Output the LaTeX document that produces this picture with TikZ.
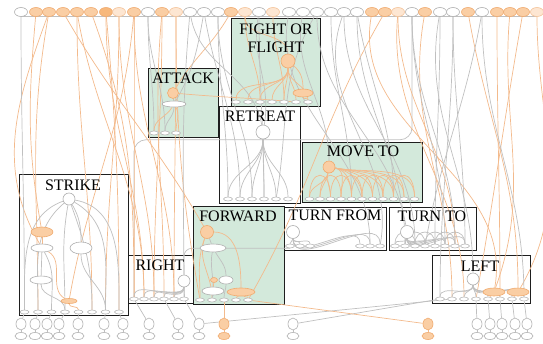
\documentclass[tikz,border=0pt]{standalone}
\usepackage{fontspec}
\setmainfont{Liberation Serif}
\usetikzlibrary{shapes.geometric,positioning}
\definecolor{grpgreen}{RGB}{211,233,219}
\definecolor{grpline}{RGB}{30,30,30}
\definecolor{ornode}{RGB}{250,206,164}
\definecolor{ornodelt}{RGB}{253,230,210}
\definecolor{ornodedk}{RGB}{247,184,124}
\definecolor{orline}{RGB}{240,170,110}
\definecolor{oredge}{RGB}{243,186,140}
\definecolor{gredge}{RGB}{192,192,192}
\definecolor{grnode}{RGB}{175,175,175}
\pgfdeclarelayer{back}
\pgfdeclarelayer{wires}
\pgfsetlayers{back,wires,main}
\tikzset{
    grp/.style={draw=grpline,line width=0.9pt,fill=#1},
    grp/.default=white,
    grptitle/.style={font=\fontsize{16}{18}\selectfont,align=center,inner sep=0pt},
    topnode/.style={ellipse,line width=0.6pt,minimum width=13pt,minimum height=9pt,inner sep=0pt},
    gtop/.style={topnode,draw=grnode,fill=white},
    otop/.style={topnode,draw=orline,fill=ornode},
    ltop/.style={topnode,draw=orline!70,fill=ornodelt},
    dtop/.style={topnode,draw=orline,fill=ornodedk},
    port/.style={ellipse,draw=grnode,fill=white,line width=0.5pt,minimum width=9pt,minimum height=4pt,inner sep=0pt},
    wcirc/.style={circle,draw=grnode,fill=white,line width=0.6pt,minimum size=#1,inner sep=0pt},
    wcirc/.default=13pt,
    ocirc/.style={circle,draw=orline,fill=ornode,line width=0.6pt,minimum size=#1,inner sep=0pt},
    ocirc/.default=13pt,
    woval/.style={ellipse,draw=grnode,fill=white,line width=0.6pt,minimum width=#1,minimum height=8pt,inner sep=0pt},
    woval/.default=22pt,
    ooval/.style={ellipse,draw=orline,fill=ornode,line width=0.6pt,minimum width=#1,minimum height=8pt,inner sep=0pt},
    ooval/.default=22pt,
    bupg/.style={ellipse,draw=grnode,fill=white,line width=0.6pt,minimum width=10pt,minimum height=12pt,inner sep=0pt},
    bupo/.style={ellipse,draw=orline,fill=ornode,line width=0.6pt,minimum width=10pt,minimum height=12pt,inner sep=0pt},
    blowg/.style={ellipse,draw=grnode,fill=white,line width=0.6pt,minimum width=12pt,minimum height=7pt,inner sep=0pt},
    blowo/.style={ellipse,draw=orline,fill=ornode,line width=0.6pt,minimum width=12pt,minimum height=7pt,inner sep=0pt},
    gedge/.style={draw=gredge,line width=0.7pt},
    oedge/.style={draw=oredge,line width=0.7pt}
}

\begin{document}
\begin{tikzpicture}[x=1pt,y=-1pt]
\useasboundingbox (0,0) rectangle (543,343);

% clusters
\begin{pgfonlayer}{back}
\draw[grp=grpgreen] (231,18) rectangle (320,106);
\draw[grp=grpgreen] (148,68) rectangle (218,137);
\draw[grp] (219,106) rectangle (300,203);
\draw[grp=grpgreen] (302,142) rectangle (422,202);
\draw[grp] (19,174) rectangle (128,315);
\draw[grp=grpgreen] (193,206) rectangle (284,304);
\draw[grp] (284,207) rectangle (386,250);
\draw[grp] (389,207) rectangle (476,250);
\draw[grp] (128,255) rectangle (193,303);
\draw[grp] (432,255) rectangle (530,303);
\end{pgfonlayer}

\node[grptitle] (fftitle) at (276,38) {FIGHT OR\\FLIGHT};
\node[grptitle] (atktitle) at (183,78) {ATTACK};
\node[grptitle] (rettitle) at (260,116) {RETREAT};
\node[grptitle] (movtitle) at (363,151) {MOVE TO};
\node[grptitle] (strtitle) at (73,185) {STRIKE};
\node[grptitle] (fwdtitle) at (238,216) {FORWARD};
\node[grptitle] (tfrtitle) at (335,215) {TURN FROM};
\node[grptitle] (ttotitle) at (432,216) {TURN TO};
\node[grptitle] (rgttitle) at (160,265) {RIGHT};
\node[grptitle] (lfttitle) at (480,266) {LEFT};

% top row
\foreach \i/\x/\s in {0/21/gtop,1/36/otop,2/49/otop,3/63/otop,4/77/otop,5/91/otop,
  6/106/dtop,7/119/ltop,8/134/otop,9/148/gtop,10/162/otop,11/176/ltop,12/190/gtop,
  13/204/gtop,14/218/gtop,15/231/otop,16/245/ltop,17/259/gtop,18/273/ltop,19/289/gtop,
  20/303/gtop,21/317/gtop,22/331/gtop,23/344/gtop,24/357/gtop,25/372/otop,26/385/otop,
  27/398/ltop,28/412/gtop,29/425/otop,30/440/gtop,31/453/gtop,32/468/otop,33/482/gtop,
  34/497/otop,35/510/otop,36/523/otop,37/537/ltop}
  \node[\s] (t\i) at (\x,12) {};

% bottom row
\foreach \i/\x/\u/\l in {0/21/bupg/blowg,1/35/bupg/blowg,2/47/bupg/blowg,3/59/bupg/blowg,
  4/78/bupg/blowg,5/104/bupg/blowg,6/123/bupg/blowg,7/149/bupg/blowg,8/178/bupg/blowg,
  9/199/bupg/blowg,10/224/bupo/blowo,11/293/bupg/blowg,12/428/bupo/blowo,13/477/bupg/blowg,
  14/490/bupg/blowg,15/502/bupg/blowg,16/515/bupg/blowg,17/527/bupg/blowg}
{
  \node[\u] (bu\i) at (\x,324) {};
  \node[\l] (bl\i) at (\x,336) {};
}

% ports
\foreach \i/\x in {1/236,2/248,3/260,4/272,5/284,6/296,7/308} \node[port] (ffp\i) at (\x,102) {};
\foreach \i/\x in {1/154,2/165,3/176} \node[port] (atp\i) at (\x,133) {};
\foreach \i/\x in {1/228,2/240,3/252,4/264,5/276,6/288} \node[port] (rtp\i) at (\x,199) {};
\foreach \i in {1,...,11} \node[port] (mvp\i) at ({299+10.5*\i},199) {};
\foreach \i in {1,...,8} \node[port] (stp\i) at ({11+13.5*\i},312) {};
\foreach \i/\x in {1/200,2/212,3/224,4/236,5/248} \node[port] (fwp\i) at (\x,300) {};
\foreach \i/\x in {1/290,2/300,3/310,4/360,5/370,6/380} \node[port] (tfp\i) at (\x,246) {};
\foreach \i in {1,...,8} \node[port] (ttp\i) at ({385+10*\i},246) {};
\foreach \i/\x in {1/134,2/144,3/154,4/164,5/174,6/184} \node[port] (rgp\i) at (\x,299) {};
\foreach \i in {1,...,8} \node[port] (lfp\i) at ({428+12*\i},299) {};

% inner nodes
\node[ocirc=14pt] (ff1) at (288,61) {};
\node[ooval=20pt] (ff2) at (303,93) {};
\node[ocirc=11pt] (atk1) at (173,93) {};
\node[woval=24pt,minimum height=6pt] (atk2) at (174,104) {};
\node[wcirc=14pt] (ret1) at (263,132) {};
\node[ocirc=12pt] (mv1) at (329,167) {};
\node[wcirc=12pt] (str1) at (69,199) {};
\node[ooval=22pt,minimum height=10pt] (str2) at (42,232) {};
\node[woval=22pt] (str3) at (42,248) {};
\node[woval=22pt,minimum height=12pt] (str4) at (81,248) {};
\node[woval=22pt] (str5) at (41,280) {};
\node[ooval=16pt,minimum height=5pt] (str6) at (69,301) {};
\node[ocirc=13pt] (fw1) at (207,232) {};
\node[woval=26pt] (fw2) at (213,248) {};
\node[ooval=7pt,minimum height=5pt] (fw3) at (214,280) {};
\node[woval=14pt] (fw4) at (226,280) {};
\node[woval=22pt] (fw5) at (213,291) {};
\node[ooval=28pt] (fw6) at (241,292) {};
\node[wcirc=13pt] (tf1) at (293,232) {};
\node[wcirc=13pt] (tt1) at (407,232) {};
\node[wcirc=12pt] (rg1) at (184,281) {};
\node[wcirc=12pt] (lf1) at (473,279) {};
\node[ooval=22pt] (lf2) at (494,292) {};
\node[ooval=22pt] (lf3) at (518,292) {};

\begin{pgfonlayer}{wires}
\draw[gedge] (t0.south) -- (t37.south);
\draw[gedge,rounded corners=12pt] (rgp1.north) -- ++(0,-157) -| (t28.south);
\draw[gedge,rounded corners=8pt] (rg1.north) |- (tfp1.south);

% from the top row
\foreach \a/\b/\p/\q in {t1/str2/-95/100,t2/stp2/-100/90,t3/fw1/-60/120,t4/rgp2/-80/90,
  t5/rgp1/-70/90,t6/stp8/-85/90,t7/rgp3/-90/90,t8/str6/-95/80,t10/rgp4/-95/90,
  t11/fwp1/-90/100,t15/atk1/-120/60,t16/ff1/-90/90,t18/ffp5/-90/90,t25/lf2/-100/80,
  t26/fwp5/-120/60,t27/lfp3/-95/90,t29/lfp2/-100/90,t32/lf3/-80/90,t34/lfp6/-90/90,
  t35/lf2/-95/70,t36/lfp4/-100/80,t37/lf3/-90/60,t2/str3/-110/120,t8/rgp5/-90/90,
  t6/rgp2/-90/90,t7/stp7/-90/90,t8/rgp1/-90/90,t10/rgp3/-90/90,t11/rgp5/-90/90,
  t4/stp6/-90/90,t16/ffp3/-90/90,t27/ttp7/-90/90}
  \draw[oedge] (\a) to[out=\p,in=\q] (\b);
\foreach \a/\b/\p/\q in {t0/stp1/-90/90,t9/atp1/-90/90,t12/ret1/-80/100,t13/atk2/-100/60,
  t13/rtp2/-80/90,t14/rtp1/-90/90,t17/ret1/-100/80,t19/tfp5/-100/90,t20/mv1/-100/90,
  t21/tt1/-90/100,t22/mvp5/-90/90,t23/tfp6/-110/80,t24/ttp2/-90/90,t28/ttp6/-90/90,
  t30/lf1/-100/90,t31/ttp8/-90/90,t33/lfp8/-90/90,t12/rgp6/-95/90,t21/rtp5/-120/80,
  t23/ttp3/-90/90,t24/mvp9/-80/90,t28/ttp7/-90/90,t30/ttp5/-90/90,t31/lfp1/-90/90,
  t33/ttp4/-100/80,t14/rtp3/-90/90,t17/rtp4/-90/90,t9/atp2/-90/90}
  \draw[gedge] (\a) to[out=\p,in=\q] (\b);

% FIGHT OR FLIGHT and ATTACK
\foreach \i in {1,...,7} \draw[oedge] (ff1) to[out=-90,in=90] (ffp\i);
\draw[oedge] (ff1) to[out=-40,in=90] (ff2);
\draw[oedge] (ff2) to[out=-90,in=90] (ffp7);
\draw[oedge] (atk1) to[out=-5,in=175] (ffp6);
\draw[gedge] (atk1) -- (atk2);
\draw[oedge] (atk2) to[out=-120,in=90] (atp1);
\draw[gedge] (atk2) to[out=-90,in=90] (atp2);
\draw[oedge] (atk2) to[out=-60,in=90] (atp3);

% RETREAT and MOVE TO
\foreach \i in {1,...,6} \draw[gedge] (ret1) to[out=-90,in=90] (rtp\i);
\foreach \i in {1,2,3} \draw[oedge] (mv1) to[out=-100,in=90] (mvp\i);
\foreach \i in {4,...,11} \draw[oedge] (mv1) to[out=-10,in=90] (mvp\i);
\foreach \i in {1,...,9}{
  \pgfmathtruncatemacro{\j}{\i+2}
  \draw[oedge] (mvp\i) to[out=90,in=90,looseness=3.5] (mvp\j);
}

% STRIKE
\foreach \i/\p in {1/-160,2/-140,4/-100,6/-70,7/-30,8/-10}
  \draw[gedge] (str1) to[out=\p,in=90] (stp\i);
\draw[gedge] (str1) to[out=-60,in=90] (str4);
\draw[oedge] (str2) -- (str3);
\draw[gedge] (str3) -- (str5);
\draw[gedge] (str3) to[out=-60,in=90] (stp3);
\draw[gedge] (str5) to[out=-90,in=90] (stp4);
\draw[gedge] (str4) to[out=-90,in=90] (stp7);
\draw[oedge] (str3) to[out=-30,in=150] (str6);
\draw[oedge] (str6) to[out=-90,in=90] (stp5);

% FORWARD
\foreach \i in {1,2} \draw[oedge] (fw1) to[out=-110,in=90] (fwp\i);
\draw[gedge] (fw1) -- (fw2);
\draw[gedge] (fw2) to[out=-100,in=90] (fw5);
\draw[gedge] (fw2) to[out=-60,in=90] (fw4);
\draw[oedge] (fw3) -- (fw5);
\draw[gedge] (fw4) to[out=-90,in=90] (fwp3);
\draw[gedge] (fw5) to[out=-90,in=90] (fwp2);
\draw[oedge] (fw1) to[out=0,in=90] (fw6);
\draw[oedge] (fw6) to[out=-120,in=90] (fwp4);
\draw[oedge] (fw6) to[out=-60,in=90] (fwp5);

% TURN FROM, TURN TO, RIGHT, LEFT
\foreach \i in {1,...,6} \draw[gedge] (tf1) to[out=-90,in=90] (tfp\i);
\foreach \i in {1,...,8} \draw[gedge] (tt1) to[out=-90,in=90] (ttp\i);
\foreach \i in {1,...,6}{
  \pgfmathtruncatemacro{\j}{\i+2}
  \draw[gedge] (ttp\i) to[out=90,in=90,looseness=2] (ttp\j);
}
\foreach \i in {1,...,6} \draw[gedge] (rg1) to[out=-90,in=90] (rgp\i);
\foreach \i in {1,...,8} \draw[gedge] (lf1) to[out=-90,in=90] (lfp\i);
\draw[oedge] (lf2) -- (lfp5);
\draw[oedge] (lf3) -- (lfp7);

% down to the bottom row
\foreach \i in {0,...,17} \draw[gedge] (bu\i) -- (bl\i);
\draw[oedge] (bu10) -- (bl10);
\draw[oedge] (bu12) -- (bl12);
\foreach \a/\b in {stp1/bu0,stp2/bu1,stp3/bu2,stp4/bu3,stp5/bu4,stp7/bu5,stp8/bu6,
  rgp1/bu7,rgp4/bu8,rgp6/bu9,lfp1/bu11,lfp2/bu9,lfp4/bu13,lfp5/bu14,lfp6/bu15,
  lfp7/bu16,lfp8/bu17}
  \draw[gedge] (\a) -- (\b);
\draw[oedge] (fwp3) -- (bu10);
\draw[oedge] (fwp5) -- (bu12);
\end{pgfonlayer}

\end{tikzpicture}
\end{document}
